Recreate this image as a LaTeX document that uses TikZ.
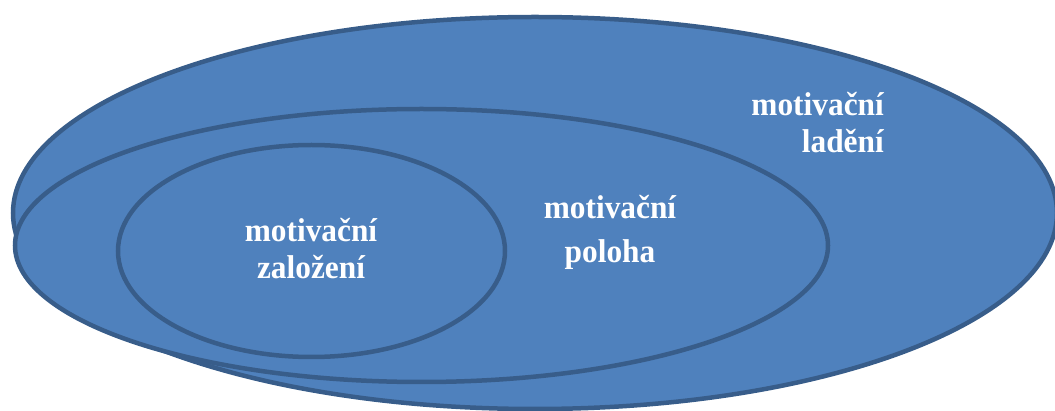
\documentclass[tikz,border=0pt]{standalone}
\usepackage{fontspec}
\setmainfont{Liberation Serif}
\newfontfamily\lblfont[FakeStretch=0.95]{Liberation Serif}
\definecolor{fillblue}{HTML}{4F81BD}
\definecolor{edgeblue}{HTML}{385D8A}
\tikzset{
  blob/.style={fill=fillblue, draw=edgeblue, line width=4.5pt},
  lbl/.style={text=white, font=\lblfont\fontsize{33}{37}\selectfont\bfseries, inner sep=0pt}
}
\begin{document}
\begin{tikzpicture}[x=1pt,y=-1pt]
\useasboundingbox (0,0) rectangle (1055,411);
\clip (0,0) rectangle (1055,411);
\draw[blob] (535,213) ellipse [x radius=522, y radius=196];
\draw[blob] (421.5,245.5) ellipse [x radius=406.5, y radius=136.5];
\draw[blob] (311.5,251) ellipse [x radius=193.5, y radius=106];
\node[lbl, align=center, anchor=base] (zal) at (311,279) {motivační\\založení};
\node[lbl, align=center, anchor=base] (pol) at (610,263) {motivační\\[7pt]poloha};
\node[lbl, align=right, anchor=base east] (lad) at (884,153) {motivační\\ladění};
\end{tikzpicture}
\end{document}
